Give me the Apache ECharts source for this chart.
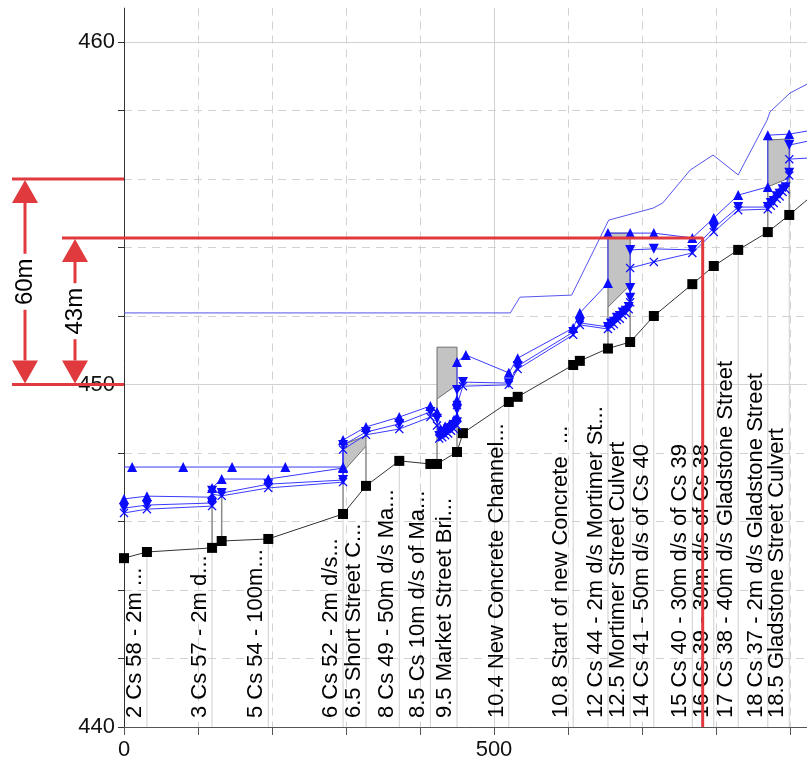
<!DOCTYPE html>
<html><head><meta charset="utf-8">
<script src="https://cdn.jsdelivr.net/npm/echarts@6/dist/echarts.min.js"></script>
<style>html,body{margin:0;padding:0;background:#fff}#c{width:807px;height:767px}</style>
</head><body><div id="c"></div>
<script>
// ---- data (chainage in m, elevation in m) ----
const bedProfile = [[0,444.93],[31,445.11],[119,445.23],[132,445.43],[195,445.49],[296,446.22],[327,447.04],[372,447.77],[414,447.68],[423,447.68],[450,448.03],[458,448.58],[520,449.49],[532,449.64],[607,450.57],[616,450.69],[654,451.05],[684,451.24],[716,452.0],[768,452.93],[797,453.46],[830,453.93],[870,454.45],[899,454.95],[923,455.39]];
const egLine = [[0,452.09],[522,452.09],[535,452.55],[605,452.61],[655,454.80],[715,455.15],[728,455.30],[765,456.26],[796,456.70],[830,456.12],[869,457.72],[873,457.96],[900,458.51],[923,458.77]];
const wsFlat = [[0,447.59],[11,447.59],[80,447.59],[146,447.59],[218,447.59],[296,447.59]];
const wsUp = [[0,446.66],[31,446.74],[119,446.71],[119,446.98],[132,447.24],[195,447.24],[296,447.56],[296,448.38],[327,448.76],[372,449.05],[414,449.37],[423,449.2],[428,448.7],[434,448.78],[440,448.84],[446,448.97],[450,449.05],[450,449.55],[450,450.66],[462,450.86],[520,450.34],[532,450.77],[607,451.65],[616,452.09],[654,452.96],[654,454.42],[684,454.42],[716,454.42],[768,454.28],[797,454.86],[830,455.53],[870,455.77],[870,457.28],[899,457.31],[923,457.4]];
const wsDown = [[0,446.39],[31,446.48],[119,446.54],[119,446.9],[132,446.83],[195,447.09],[296,447.21],[296,448.23],[327,448.61],[372,448.85],[414,449.2],[423,449.0],[426,448.5],[430,448.58],[434,448.6],[438,448.69],[442,448.73],[446,448.82],[450,448.9],[450,449.26],[450,449.84],[458,450.07],[520,450.04],[532,450.54],[607,451.53],[616,451.8],[654,451.68],[658,451.78],[662,451.83],[666,451.95],[670,452.0],[674,452.1],[678,452.15],[682,452.26],[684,452.53],[684,452.82],[684,453.93],[716,453.96],[768,453.93],[797,454.57],[830,455.18],[870,455.18],[874,455.3],[878,455.36],[882,455.5],[886,455.57],[890,455.7],[894,455.76],[899,456.18],[899,456.99],[923,457.1]];
const wsCross = [[0,446.25],[31,446.36],[119,446.45],[119,446.8],[132,446.75],[195,446.98],[296,447.15],[296,448.1],[327,448.53],[372,448.70],[414,449.05],[423,448.8],[426,448.42],[430,448.46],[434,448.52],[438,448.57],[442,448.65],[446,448.7],[450,448.8],[450,449.4],[458,449.95],[520,449.99],[532,450.45],[607,451.45],[616,451.74],[654,451.62],[658,451.71],[662,451.76],[666,451.88],[670,451.92],[674,452.03],[678,452.09],[682,452.2],[684,452.4],[684,453.4],[716,453.58],[768,453.84],[797,454.45],[830,455.09],[870,455.12],[874,455.22],[878,455.3],[882,455.42],[886,455.49],[890,455.62],[894,455.7],[899,456.1],[899,456.58],[923,456.61]];
const structLines = [[119,445.23,446.63],[132,445.43,446.98],[296,446.22,447.45],[327,447.04,448.2],[423,447.68,449.58],[450,448.03,449.99],[654,451.05,452.26],[684,451.24,452.9],[870,454.45,455.77],[899,454.95,456.03]];
const deck65 = [[296,447.45],[296,448.25],[327,448.5],[327,448.2]];
const deck95 = [[423,449.58],[423,451.09],[450,451.09],[450,449.99]];
const deck125 = [[654,452.26],[654,454.42],[684,454.42],[684,452.9]];
const deck185 = [[870,455.77],[870,457.14],[899,457.17],[899,456.03]];
const labelX = [31,119,195,296,327,372,414,450,520,607,654,684,716,768,797,830,870,899];
const labelText = ['2 Cs 58 - 2m ...','3 Cs 57 - 2m d...','5 Cs 54 - 100m...','6 Cs 52 - 2m d/s...','6.5 Short Street C...','8 Cs 49 - 50m d/s Ma...','8.5 Cs 10m d/s of Ma...','9.5 Market Street Bri...','10.4 New Concrete Channel...','10.8 Start of new Concrete  ...','12 Cs 44 - 2m d/s Mortimer St...','12.5 Mortimer Street Culvert','14 Cs 41 - 50m d/s of Cs 40','15 Cs 40 - 30m d/s of Cs 39','16 Cs 39 - 30m d/s of Cs 38','17 Cs 38 - 40m d/s Gladstone Street','18 Cs 37 - 2m d/s Gladstone Street','18.5 Gladstone Street Culvert'];
const dimLevels = [456, 454.28, 450];
const dimLabels = ['60m', '43m'];
const redLine = [[0,454.28],[782,454.28],[782,440]];
const xTickLabels = [0, 500];
const yTickLabels = [440, 450, 460];
const plotTop = 461;

// ---- chart ----
const FONT = '"Liberation Sans", Arial, sans-serif';
const RED = '#e03a3e';
const BLUE = '#0b0bff';
const decks = [deck65, deck95, deck125, deck185];
const bedAt = x => { const p = bedProfile.find(q => q[0] === x); return p ? p[1] : 440; };
const edge = arr => arr.map((p, i) => (i === arr.length - 1 && p[0] >= 923) ? {value: p, symbol: 'none'} : p);
const flatData = wsFlat.map((p, i) => i === 0 ? {value: p, symbol: 'none'} : p);
const crossPath = 'path://M0,1 L1,0 L5,4 L9,0 L10,1 L6,5 L10,9 L9,10 L5,6 L1,10 L0,9 L4,5 Z';

const chart = echarts.init(document.getElementById('c'));
const wsLine = (name, data, symbol, rot, size) => ({
  name, type: 'line', data, symbol, symbolSize: size, symbolRotate: rot, z: 5,
  lineStyle: {color: '#3a3aff', width: 1}, itemStyle: {color: BLUE}, silent: true, animation: false
});

chart.setOption({
  animation: false,
  grid: {left: 124, top: -300.5, width: 740, height: 1027.5, containLabel: false, outerBoundsMode: 'none'},
  xAxis: {
    type: 'value', min: 0, max: 1000, interval: 500,
    axisLine: {onZero: false, lineStyle: {color: '#555', width: 1}},
    axisTick: {length: 8, lineStyle: {color: '#555'}},
    minorTick: {show: true, splitNumber: 5, length: 8, lineStyle: {color: '#555'}},
    axisLabel: {fontSize: 22, color: '#111', margin: 12, fontFamily: FONT,
      formatter: v => xTickLabels.includes(v) ? String(v) : ''},
    splitLine: {show: true, lineStyle: {color: '#d2d2d2'}},
    minorSplitLine: {show: true, lineStyle: {color: '#d2d2d2', type: [8, 6]}}
  },
  yAxis: {
    type: 'value', min: 440, max: 470, interval: 10,
    axisLine: {show: true, onZero: false, lineStyle: {color: '#333', width: 1}},
    axisTick: {show: true, length: 6, lineStyle: {color: '#333'}},
    minorTick: {show: true, splitNumber: 5, length: 6, lineStyle: {color: '#333'}},
    axisLabel: {fontSize: 22, color: '#111', margin: 9, fontFamily: FONT,
      formatter: v => yTickLabels.includes(v) ? String(v) : ''},
    splitLine: {show: true, lineStyle: {color: '#d2d2d2'}},
    minorSplitLine: {show: true, lineStyle: {color: '#d2d2d2', type: [8, 6]}}
  },
  series: [
    { type: 'custom', z: 1, silent: true,
      data: labelX.map((x, i) => [x, bedAt(x), i]),
      renderItem: (params, api) => {
        const x = api.value(0), b = api.value(1), i = api.value(2);
        const p0 = api.coord([x, 440]), p1 = api.coord([x, b]);
        return {type: 'group', children: [
          {type: 'line', shape: {x1: p0[0], y1: p0[1], x2: p1[0], y2: p1[1]}, style: {stroke: '#cfcfcf', lineWidth: 1}},
          {type: 'text', x: p0[0] - 1, y: p0[1] - 9, rotation: Math.PI / 2,
           style: {text: labelText[i], fill: '#000', font: '22px ' + FONT, align: 'left', verticalAlign: 'bottom', textAlign: 'left', textVerticalAlign: 'bottom'}}
        ]};
      }
    },
    { type: 'custom', z: 2, silent: true,
      data: decks.map((d, i) => [d[0][0], d[0][1], i]),
      renderItem: (params, api) => ({
        type: 'polygon',
        shape: {points: decks[api.value(2)].map(p => api.coord(p))},
        style: {fill: '#c3c3c3', stroke: '#6e6e6e', lineWidth: 1}
      })
    },
    { type: 'custom', z: 2, silent: true,
      data: structLines.map(s => [s[0], s[1], s[2]]),
      renderItem: (params, api) => {
        const a = api.coord([api.value(0), api.value(1)]), b = api.coord([api.value(0), api.value(2)]);
        return {type: 'line', shape: {x1: a[0], y1: a[1], x2: b[0], y2: b[1]}, style: {stroke: '#8a8a8a', lineWidth: 1.5}};
      }
    },
    { name: 'Ground', type: 'line', data: edge(bedProfile), symbol: 'rect', symbolSize: 10, z: 4,
      lineStyle: {color: '#333', width: 1}, itemStyle: {color: '#000'}, silent: true },
    { name: 'EG', type: 'line', data: egLine, symbol: 'none', z: 4,
      lineStyle: {color: '#5555ee', width: 1}, silent: true },
    wsLine('WS flat', flatData, 'triangle', 0, 10),
    wsLine('WS x', edge(wsCross), crossPath, 0, 9),
    wsLine('WS down', edge(wsDown), 'triangle', 180, 10),
    wsLine('WS up', edge(wsUp), 'triangle', 0, 10),
    { name: 'Level', type: 'line', data: redLine, symbol: 'none', z: 10,
      lineStyle: {color: RED, width: 3}, silent: true }
  ]
});

// ---- dimension annotations in the left margin ----
const py = v => chart.convertToPixel({xAxisIndex: 0, yAxisIndex: 0}, [0, v])[1];
const yT = py(dimLevels[0]), yM = py(dimLevels[1]), yB = py(dimLevels[2]);
const axX = chart.convertToPixel({xAxisIndex: 0, yAxisIndex: 0}, [0, 450])[0];
const g = [];
// plot ends at the top elevation: blank the strip above it
g.push({type: 'rect', shape: {x: 0, y: -10, width: 807, height: py(plotTop) + 10}, style: {fill: '#fff'}, z: 90});
const hline = (x1, y) => g.push({type: 'line', shape: {x1: x1, y1: y, x2: axX, y2: y}, style: {stroke: RED, lineWidth: 3}, z: 100});
hline(12, yT); hline(62, yM); hline(12, yB);
const arrow = (cx, yTop, yBot, label) => {
  const h = 24, w = 13, mid = (yTop + yBot) / 2;
  g.push({type: 'polygon', shape: {points: [[cx, yTop + 1], [cx - w, yTop + h], [cx + w, yTop + h]]}, style: {fill: RED}, z: 100});
  g.push({type: 'polygon', shape: {points: [[cx, yBot - 1], [cx - w, yBot - h], [cx + w, yBot - h]]}, style: {fill: RED}, z: 100});
  g.push({type: 'line', shape: {x1: cx, y1: yTop + h, x2: cx, y2: mid - 28}, style: {stroke: RED, lineWidth: 3}, z: 100});
  g.push({type: 'line', shape: {x1: cx, y1: mid + 28, x2: cx, y2: yBot - h}, style: {stroke: RED, lineWidth: 3}, z: 100});
  g.push({type: 'text', x: cx, y: mid, rotation: Math.PI / 2,
    style: {text: label, fill: '#000', font: '24px ' + FONT, align: 'center', verticalAlign: 'middle', textAlign: 'center', textVerticalAlign: 'middle'}, z: 100});
};
arrow(25, yT, yB, dimLabels[0]);
arrow(75, yM, yB, dimLabels[1]);
chart.setOption({graphic: g});
</script></body></html>
